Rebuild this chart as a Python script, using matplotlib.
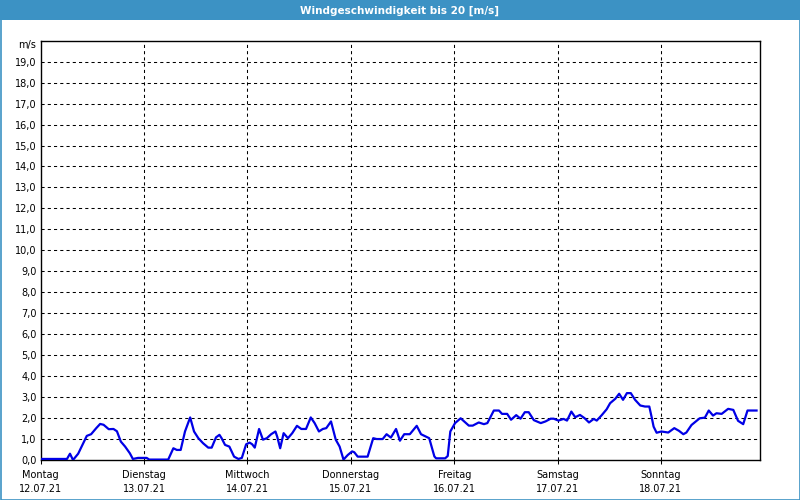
import matplotlib
matplotlib.use("Agg")
import matplotlib.pyplot as plt
from matplotlib.patches import Rectangle
from matplotlib.transforms import blended_transform_factory

# wind speed readings, hours since Monday 00:00
hours = [0.0, 6.1, 6.8, 7.5, 8.7, 9.7, 10.7, 11.7, 12.9, 13.8, 14.6, 15.8, 16.9, 17.7,
         18.6, 19.6, 20.7, 21.4, 22.6,
         24.6, 25.2, 29.6, 30.8, 31.6, 32.5, 33.5, 34.7, 35.6, 36.6, 37.7, 38.9, 39.7,
         40.7, 41.5, 42.0, 42.8, 43.8, 44.9, 45.9, 46.7, 47.7,
         48.5, 49.1, 49.7, 50.7, 51.6, 52.5, 53.5, 54.5, 54.9, 55.6, 56.4, 57.4, 58.4,
         59.5, 60.5, 61.6, 62.7, 63.6, 64.6, 65.5, 66.3, 67.4, 68.5, 69.4, 70.3, 71.3,
         72.3, 72.8, 73.6, 75.9, 77.2, 78.0, 79.4, 80.3, 81.3, 82.5, 83.4, 84.4, 85.7,
         87.3, 88.3, 89.4, 90.2, 91.4, 91.8, 93.9, 94.5,
         95.1, 96.2, 97.5, 99.4, 100.3, 101.7, 102.9, 103.7, 105.2, 106.4, 107.1, 108.3,
         109.2, 110.4, 111.4, 112.4, 113.3, 114.5, 116.1, 117.2, 118.4,
         119.1, 120.2, 121.4, 122.2, 123.2, 124.1, 125.2, 126.3, 127.3, 128.4, 129.1,
         130.3, 131.4, 132.2, 133.4, 134.3, 135.2, 136.1, 137.0, 138.0, 139.2, 140.3,
         141.3, 141.9, 142.3, 143.0,
         144.1, 145.7, 147.1, 148.2, 149.2, 149.9, 151.1, 153.0, 154.2, 155.1, 156.1,
         156.9, 158.1, 159.6, 160.8, 161.9, 163.1, 164.1, 166.2]
speed = [0.05, 0.05, 0.3, 0.0, 0.3, 0.72, 1.15, 1.23, 1.52, 1.72, 1.68, 1.47, 1.48, 1.37,
         0.88, 0.64, 0.32, 0.05, 0.1,
         0.1, 0.02, 0.02, 0.56, 0.48, 0.48, 1.36, 2.03, 1.36, 1.04, 0.8, 0.59, 0.59,
         1.08, 1.2, 1.04, 0.72, 0.64, 0.16, 0.05, 0.1, 0.75,
         0.83, 0.75, 0.59, 1.48, 0.97, 1.04, 1.23, 1.36, 1.12, 0.56, 1.28, 1.04, 1.28,
         1.63, 1.48, 1.48, 2.03, 1.76, 1.36, 1.48, 1.52, 1.84, 0.97, 0.64, 0.02, 0.24,
         0.41, 0.37, 0.16, 0.16, 1.04, 1.0, 1.0, 1.23, 1.07, 1.48, 0.92, 1.23, 1.23,
         1.63, 1.23, 1.12, 1.04, 0.17, 0.08, 0.08, 0.19,
         1.36, 1.76, 1.99, 1.64, 1.64, 1.79, 1.71, 1.76, 2.36, 2.36, 2.2, 2.2,
         1.92, 2.14, 1.97, 2.28, 2.28, 1.9, 1.76, 1.84, 1.97,
         1.97, 1.88, 1.96, 1.88, 2.31, 2.04, 2.15, 1.99, 1.79, 1.96, 1.88,
         2.15, 2.42, 2.71, 2.92, 3.16, 2.87, 3.19, 3.19, 2.87, 2.6, 2.55,
         2.55, 1.99, 1.59, 1.3,
         1.36, 1.31, 1.52, 1.39, 1.23, 1.31, 1.67, 1.99, 2.02, 2.36, 2.12,
         2.23, 2.2, 2.44, 2.39, 1.87, 1.71, 2.36, 2.36]

day_names = ["Montag", "Dienstag", "Mittwoch", "Donnerstag", "Freitag", "Samstag", "Sonntag"]
day_dates = ["12.07.21", "13.07.21", "14.07.21", "15.07.21", "16.07.21", "17.07.21", "18.07.21"]
day_starts = [0, 24, 48, 72, 96, 120, 144]
y_ticks = list(range(0, 20))

title_blue = "#3c92c4"

fig = plt.figure(figsize=(8, 5), dpi=100, facecolor="white")
ax = fig.add_axes([40.7 / 800, 40 / 500, (760 - 40.7) / 800, (460 - 40.7) / 500])

# title bar + frame
fig.patches.append(Rectangle((0, 1 - 20 / 500), 1, 20 / 500, transform=fig.transFigure,
                             facecolor=title_blue, edgecolor="none", zorder=0))
fig.patches.append(Rectangle((0.5 / 800, 0.5 / 500), 799 / 800, 499 / 500, transform=fig.transFigure,
                             facecolor="none", edgecolor=title_blue, lw=1.2, zorder=0))
fig.text(0.5, 1 - 10.5 / 500, "Windgeschwindigkeit bis 20 [m/s]", color="white",
         ha="center", va="center", fontsize=7.5, fontweight="bold")

ax.plot(hours, speed, color="#0000e6", lw=1.6, zorder=3)

ax.set_xlim(0, 167)
ax.set_ylim(0, 20)

# dashed grid
for y in range(1, 20):
    ax.axhline(y, color="black", lw=0.75, ls=(0, (3, 3)), zorder=1)
for d in day_starts[1:]:
    ax.axvline(d, color="black", lw=0.75, ls=(0, (3, 3)), zorder=1)

ax.set_yticks(y_ticks)
ax.set_yticklabels([f"{v},0" for v in y_ticks])
ax.set_xticks(day_starts)
ax.set_xticklabels([f"{n}\n{d}" for n, d in zip(day_names, day_dates)], linespacing=1.55)
ax.tick_params(axis="y", length=0, pad=3, labelsize=7)
ax.tick_params(axis="x", length=3, width=0.75, pad=4, labelsize=7)

for s in ax.spines.values():
    s.set_linewidth(1)
    s.set_color("black")

trans = blended_transform_factory(ax.transAxes, ax.transData)
ax.text(-0.006, 19.78, "m/s", transform=trans, ha="right", va="center", fontsize=7)

fig.savefig("out.png", dpi=100, facecolor="white")
